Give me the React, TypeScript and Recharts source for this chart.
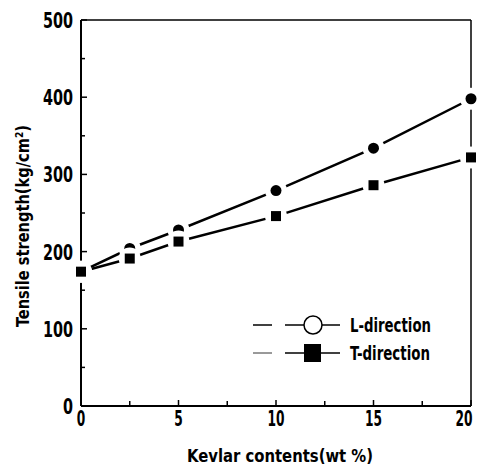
import React from "react";
import {
  LineChart,
  Line,
  XAxis,
  YAxis,
  ReferenceLine,
} from "recharts";

const kevlar = [0, 2.5, 5, 10, 15, 20];
const lDirection = [174, 204, 228, 279, 334, 398];
const tDirection = [174, 191, 213, 246, 286, 322];
const xTicks = [0, 2.5, 5, 7.5, 10, 12.5, 15, 17.5, 20];
const yTicks = [0, 50, 100, 150, 200, 250, 300, 350, 400, 450, 500];

const FONT = "'DejaVu Sans Condensed', 'DejaVu Sans', sans-serif";
const txt = { fontFamily: FONT, fontWeight: "bold", fontStretch: "condensed", fill: "#000" } as const;

const data = kevlar.map((k, i) => ({ k, L: lDirection[i], T: tDirection[i] }));

function XTick(props: any) {
  const { x, y, payload } = props;
  const major = payload.value % 5 === 0;
  const s = String(payload.value);
  const shift = payload.value === 20 ? -7 : 0;
  return (
    <g>
      <line x1={x} y1={y} x2={x} y2={y - (major ? 6 : 5)} stroke="#000" strokeWidth={1.5} />
      {major && (
        <text x={x + shift} y={y + 20} textAnchor="middle" fontSize={21} textLength={s.length * 8.5} lengthAdjust="spacingAndGlyphs" style={txt}>
          {s}
        </text>
      )}
    </g>
  );
}

function YTick(props: any) {
  const { x, y, payload } = props;
  const major = payload.value % 100 === 0;
  const s = String(payload.value);
  return (
    <g>
      <line x1={x} y1={y} x2={x + (major ? 6 : 4)} y2={y} stroke="#000" strokeWidth={1.5} />
      {major && (
        <text x={x - 8} y={y + 8} textAnchor="end" fontSize={21} textLength={s.length * 10} lengthAdjust="spacingAndGlyphs" style={txt}>
          {s}
        </text>
      )}
    </g>
  );
}

// markers drawn as point labels so they sit above the curves, with a white halo
function CircleMark(props: any) {
  const { x, y } = props;
  if (x == null || y == null) return null;
  return (
    <g>
      <circle cx={x} cy={y} r={11} fill="#fff" />
      <circle cx={x} cy={y} r={5.5} fill="#000" />
    </g>
  );
}

function SquareMark(props: any) {
  const { x, y } = props;
  if (x == null || y == null) return null;
  return (
    <g>
      <circle cx={x} cy={y} r={11} fill="#fff" />
      <rect x={x - 5} y={y - 5} width={10} height={10} fill="#000" />
    </g>
  );
}

function LegendBox() {
  return (
    <svg width={477} height={466} style={{ position: "absolute", left: 0, top: 0, pointerEvents: "none" }}>
      <line x1={253} y1={325} x2={272} y2={325} stroke="#000" strokeWidth={1.5} />
      <line x1={285} y1={325} x2={340} y2={325} stroke="#000" strokeWidth={1.5} />
      <circle cx={313} cy={325} r={9} fill="#fff" stroke="#000" strokeWidth={1.5} />
      <text x={350} y={332} fontSize={19} textLength={81} lengthAdjust="spacingAndGlyphs" style={txt}>L-direction</text>
      <line x1={253} y1={353} x2={272} y2={353} stroke="#000" strokeWidth={0.8} />
      <line x1={285} y1={353} x2={340} y2={353} stroke="#000" strokeWidth={1.5} />
      <rect x={304} y={344} width={17} height={18} fill="#000" />
      <text x={350} y={360} fontSize={19} textLength={80} lengthAdjust="spacingAndGlyphs" style={txt}>T-direction</text>
    </svg>
  );
}

export default function App() {
  return (
    <div style={{ position: "fixed", left: 0, top: 0, width: 477, height: 466, background: "#fff" }}>
      <LineChart width={477} height={466} data={data} margin={{ top: 20, right: 6, bottom: 0, left: 0 }}>
        <XAxis
          dataKey="k"
          type="number"
          domain={[0, 20]}
          ticks={xTicks}
          interval={0}
          tickSize={0}
          tickMargin={0}
          height={60}
          axisLine={{ stroke: "#000", strokeWidth: 2 }}
          tick={<XTick />}
          label={() => (
            <text x={187} y={462} fontSize={18} textLength={186} lengthAdjust="spacingAndGlyphs" style={txt}>
              Kevlar contents(wt  %)
            </text>
          )}
        />
        <YAxis
          type="number"
          domain={[0, 500]}
          ticks={yTicks}
          interval={0}
          tickSize={0}
          tickMargin={0}
          width={81}
          axisLine={{ stroke: "#000", strokeWidth: 2 }}
          tick={<YTick />}
          label={() => (
            <text transform="translate(29,226) rotate(-90)" textAnchor="middle" fontSize={18} textLength={202} lengthAdjust="spacingAndGlyphs" style={txt}>
              Tensile strength(kg/cm²)
            </text>
          )}
        />
        <ReferenceLine y={500} stroke="#000" strokeWidth={1.5} ifOverflow="extendDomain" />
        <ReferenceLine x={20} stroke="#000" strokeWidth={1.5} ifOverflow="extendDomain" />
        <Line dataKey="L" stroke="#000" strokeWidth={2.5} dot={false} activeDot={false} label={<CircleMark />} isAnimationActive={false} />
        <Line dataKey="T" stroke="#000" strokeWidth={2.5} dot={false} activeDot={false} label={<SquareMark />} isAnimationActive={false} />
      </LineChart>
      <LegendBox />
    </div>
  );
}
